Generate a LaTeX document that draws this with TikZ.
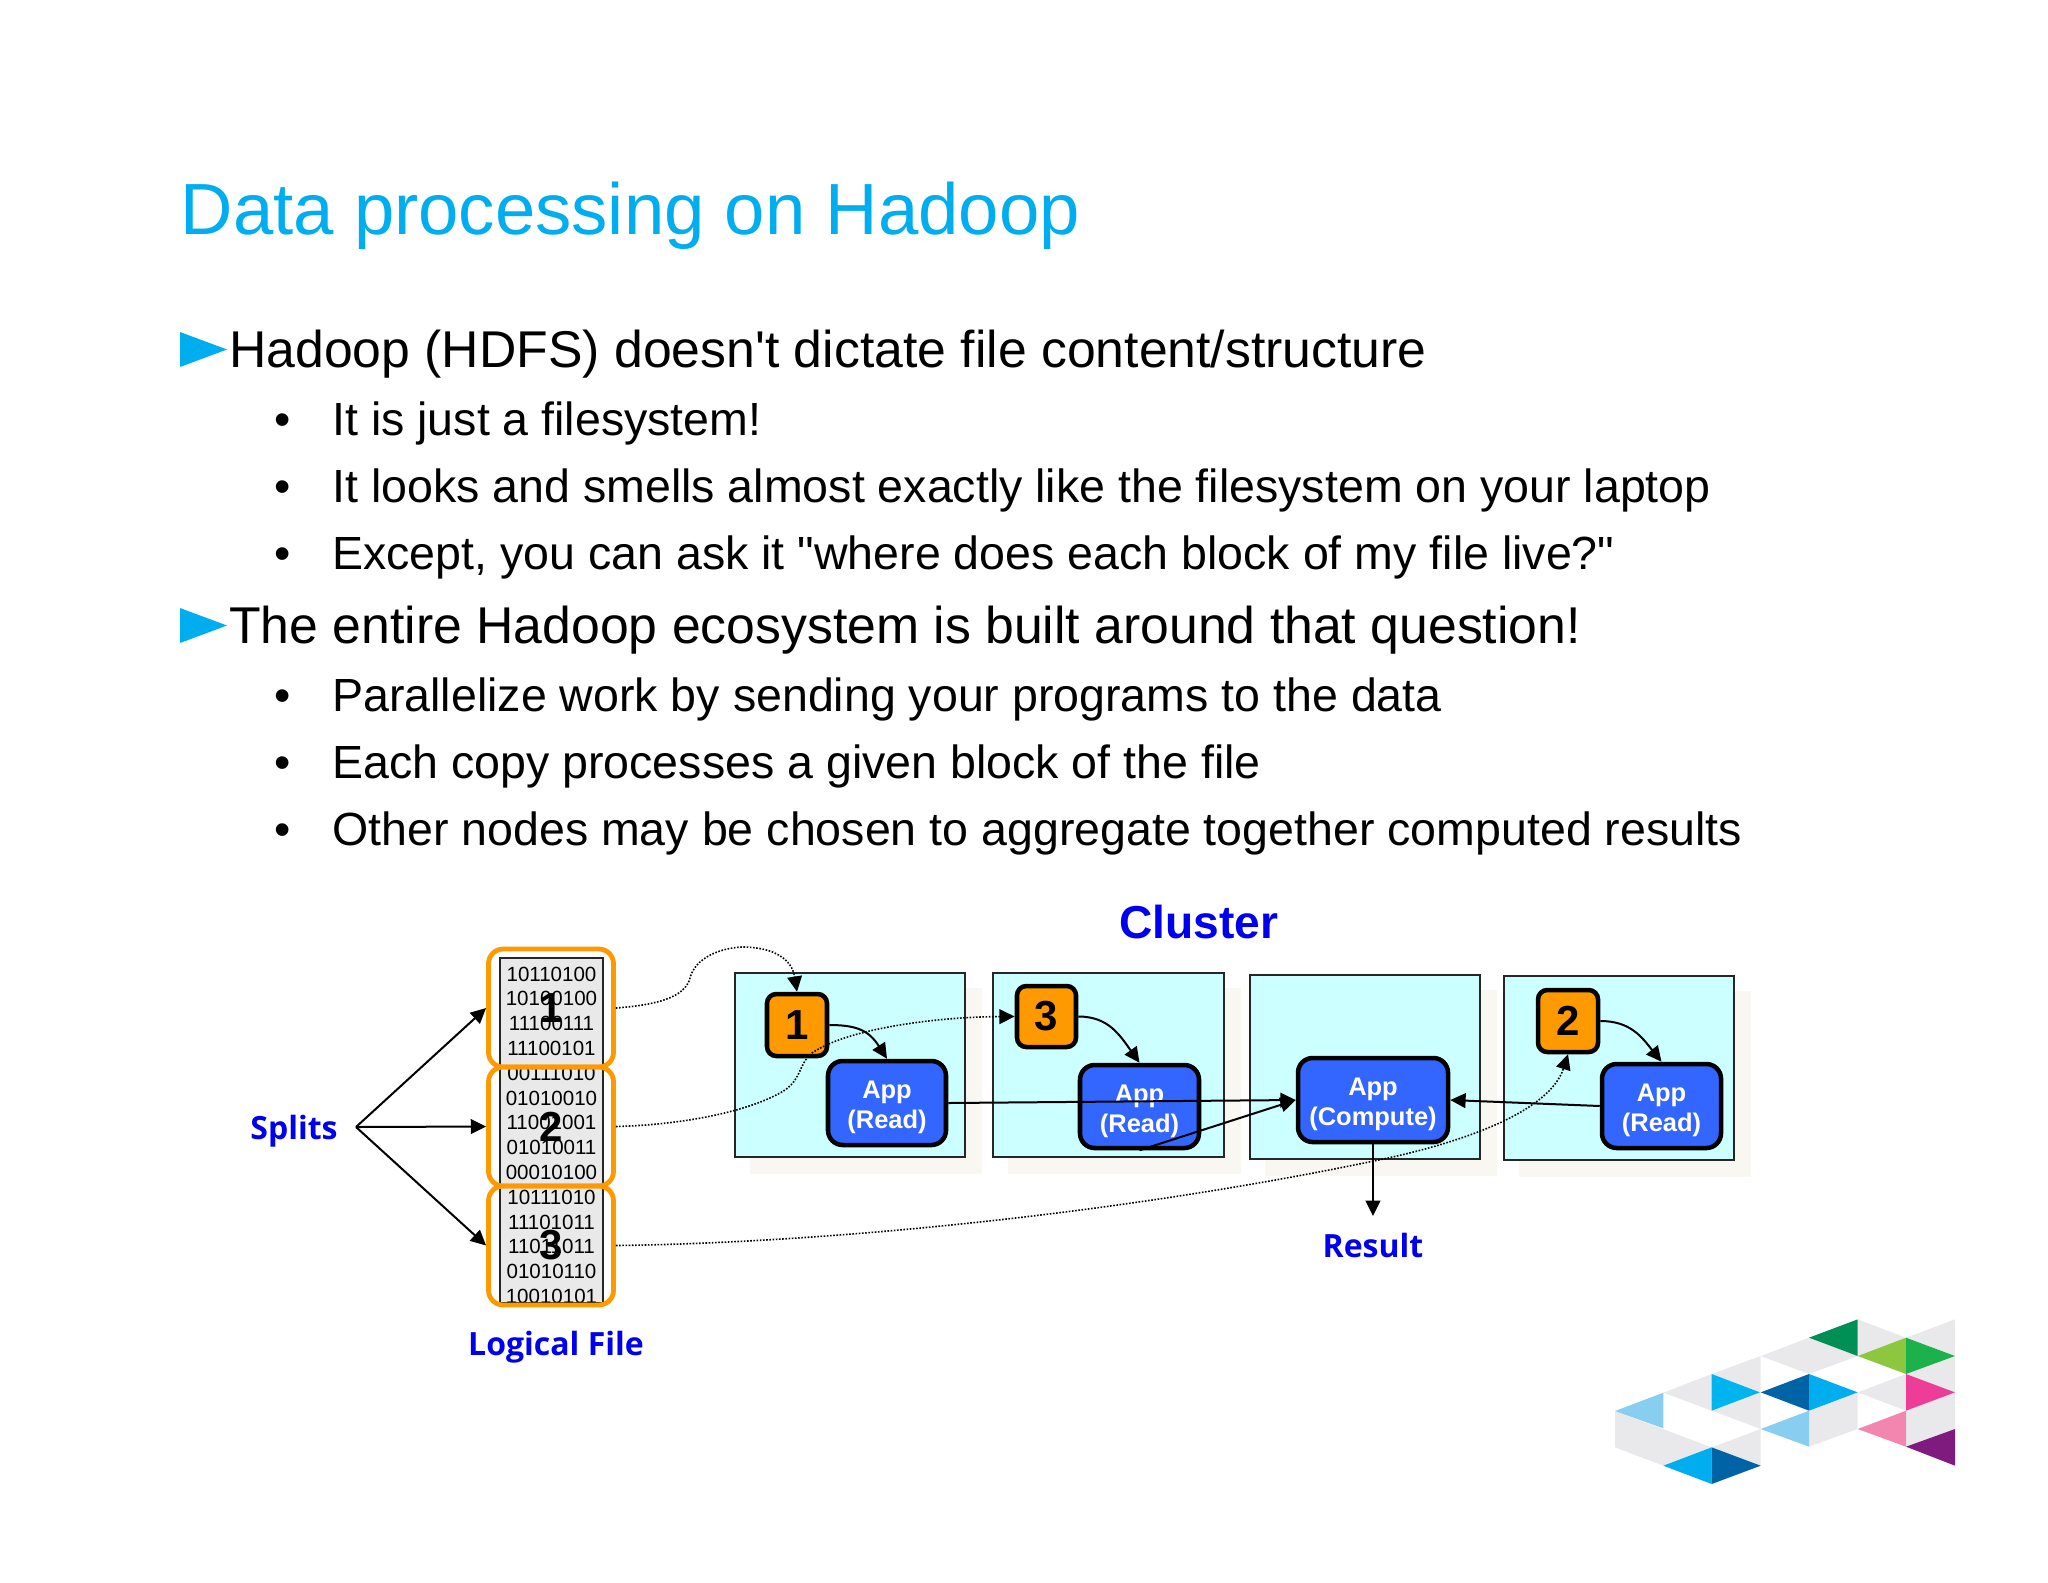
\documentclass[tikz,border=0pt]{standalone}
\usepackage{fontspec}
\setmainfont{Liberation Sans}
\newfontfamily\labelfont{Open Sans}
\usetikzlibrary{arrows.meta,backgrounds}
\definecolor{titleblue}{HTML}{00AEEF}
\definecolor{labelblue}{HTML}{0000EE}
\definecolor{orangebox}{HTML}{FF9900}
\definecolor{appblue}{HTML}{3366FF}
\definecolor{cellcyan}{HTML}{CCFFFF}
\definecolor{shadowc}{HTML}{F8F7F2}
\definecolor{filegray}{HTML}{E9E9E9}
\definecolor{logogray}{HTML}{E9E9EB}
\newcommand{\bxn}[7]{%
  \pgfmathsetmacro\cxv{(#3+#5)/2}\pgfmathsetmacro\cyv{(#4+#6)/2}%
  \node[#2,minimum width={(#5-#3)*0.75pt},minimum height={(#6-#4)*0.75pt}] (#1) at (\cxv,\cyv) {#7};}
\newcommand{\applines}[2]{\rule{0pt}{20pt}#1\\#2}
\tikzset{
  titletext/.style={anchor=base west,inner sep=0,font=\fontsize{54.4}{60}\selectfont,text=titleblue},
  leadtext/.style={anchor=base west,inner sep=0,font=\fontsize{38.8}{46}\selectfont},
  subtext/.style={anchor=base west,inner sep=0,font=\fontsize{34.9}{40}\selectfont},
  arrowbullet/.style={fill=titleblue,draw=none},
  filebox/.style={draw=black!85,line width=1.9pt,fill=filegray,inner sep=0},
  bits/.style={anchor=base,inner sep=0,font=\fontsize{15.4}{18}\selectfont},
  splitbox/.style={draw=orangebox,line width=3.6pt,rounded corners=11pt,inner sep=0,font=\bfseries\fontsize{31.5}{36}\selectfont},
  cellbox/.style={draw=black!85,line width=1.5pt,fill=cellcyan,inner sep=0},
  blockbox/.style={draw=black,line width=3.4pt,fill=orangebox,rounded corners=7pt,inner sep=0,font=\bfseries\fontsize{31.5}{36}\selectfont},
  appbox/.style={draw=black,line width=3.4pt,fill=appblue,rounded corners=11pt,inner sep=0,align=center,text=white,font=\bfseries\fontsize{19.1}{22.8}\selectfont},
  bluelabel/.style={anchor=base,inner sep=0,text=labelblue,font=\labelfont\bfseries\fontsize{24}{28}\selectfont},
  clusterlabel/.style={anchor=base,inner sep=0,text=labelblue,font=\bfseries\fontsize{34.6}{40}\selectfont},
  conn/.style={line width=1.5pt,-{Triangle[length=11.5pt,width=11pt]}},
  dots/.style={line width=1.2pt,dash pattern=on 1.2pt off 1.2pt,-{Triangle[length=11.5pt,width=11pt]}},
}
\begin{document}
\begin{tikzpicture}[x=0.75pt,y=-0.75pt]
\useasboundingbox (0,0) rectangle (2048,1582);
% text
\node[titletext] (title) at (180.5,234) {Data processing on Hadoop};
\fill[arrowbullet] (180,332) -- (227,349.5) -- (180,367) -- cycle;
\node[leadtext] (l1) at (229,367) {Hadoop (HDFS) doesn\textquotesingle t dictate file content/structure};
\node[subtext] (b1) at (274,435) {•};
\node[subtext] (t1) at (332,435) {It is just a filesystem!};
\node[subtext] (b2) at (274,502) {•};
\node[subtext] (t2) at (332,502) {It looks and smells almost exactly like the filesystem on your laptop};
\node[subtext] (b3) at (274,569) {•};
\node[subtext] (t3) at (332,569) {Except, you can ask it \textquotedbl where does each block of my file live?\textquotedbl};
\fill[arrowbullet] (180,608) -- (227,625.5) -- (180,643) -- cycle;
\node[leadtext] (l2) at (229,643) {The entire Hadoop ecosystem is built around that question!};
\node[subtext] (b4) at (274,711) {•};
\node[subtext] (t4) at (332,711) {Parallelize work by sending your programs to the data};
\node[subtext] (b5) at (274,778) {•};
\node[subtext] (t5) at (332,778) {Each copy processes a given block of the file};
\node[subtext] (b6) at (274,845) {•};
\node[subtext] (t6) at (332,845) {Other nodes may be chosen to aggregate together computed results};
% logical file
\bxn{file}{filebox}{500}{958}{603}{1303}{}
\foreach \t [count=\i] in {10110100,10100100,11100111,11100101,00111010,01010010,11001001,01010011,00010100,10111010,11101011,11011011,01010110,10010101}
  \node[bits] (bit\i) at (551.5,{956.2+24.8*\i}) {\t};
\bxn{split1}{splitbox}{488.5}{949}{613.5}{1067}{1}
\bxn{split2}{splitbox}{488.5}{1067}{613.5}{1186}{2}
\bxn{split3}{splitbox}{488.5}{1186}{613.5}{1305}{3}
\node[bluelabel] (splits) at (294,1139) {Splits};
\node[bluelabel] (logical) at (556,1355) {Logical File};
\coordinate (apex) at (356,1127);
\draw[conn] (apex) -- (split1.west);
\draw[conn] (apex) -- (split2.west);
\draw[conn] (apex) -- (split3.west);
% cluster
\node[clusterlabel] (cluster) at (1199,938) {Cluster};
\bxn{cell1}{cellbox}{735}{973}{965}{1157}{}
\bxn{cell2}{cellbox}{993}{973}{1223.5}{1157}{}
\bxn{cell3}{cellbox}{1250}{975}{1480}{1159}{}
\bxn{cell4}{cellbox}{1504}{976}{1734}{1160}{}
\begin{pgfonlayer}{background}
\foreach \c in {cell1,cell2,cell3,cell4}
  \fill[shadowc] ([shift={(16,16)}]\c.south west) rectangle ([shift={(16,16)}]\c.north east);
\end{pgfonlayer}
\bxn{block1}{blockbox}{767}{994}{827}{1056}{1}
\bxn{block3}{blockbox}{1017}{986}{1076}{1047}{3}
\bxn{block2}{blockbox}{1538}{990}{1598}{1052}{2}
\bxn{app1}{appbox}{828}{1061}{946}{1145}{\applines{App}{(Read)}}
\bxn{app2}{appbox}{1080}{1065}{1199}{1148}{\applines{App}{(Read)}}
\bxn{appc}{appbox}{1298}{1058}{1448}{1142}{\applines{App}{(Compute)}}
\bxn{app3}{appbox}{1602}{1064}{1721}{1148}{\applines{App}{(Read)}}
\node[bluelabel] (result) at (1373,1257) {Result};
\coordinate (resultend) at (1373,1216);
\draw[conn] (block1.east) .. controls +(28,0) and +(-18,-28) .. (app1.north);
\draw[conn] (block3.east) .. controls +(30,0) and +(-20,-28) .. (app2.north);
\draw[conn] (block2.east) .. controls +(30,0) and +(-20,-25) .. (app3.north);
\draw[conn] (app1.east) -- (appc.west);
\draw[conn] (app2.south) -- (appc.west);
\draw[conn] (app3.west) -- (appc.east);
\draw[conn] (appc.south) -- (resultend);
% dotted
\draw[dots] (split1.east) .. controls (655,1005) and (685,998) .. (690,978) .. controls (695,958) and (720,948) .. (742,947) .. controls (775,947) and (792,960) .. (block1.north);
\draw[dots] (split2.east) .. controls (680,1125) and (750,1112) .. (785,1090) .. controls (802,1078) and (798,1065) .. (812,1053) .. controls (845,1030) and (930,1017) .. (block3.west);
\draw[dots] (split3.east) .. controls (820,1243) and (1120,1215) .. (1388,1158) .. controls (1470,1140) and (1550,1110) .. (block2.south);
% logo
\begin{scope}[shift={(1590,1300)},x=0.25pt,y=-0.25pt]
\fill[logogray] (75,333) -- (365,442) -- (220,497) -- (75,442) -- cycle;
\fill[logogray] (365,442) -- (512,387) -- (512,497) -- cycle;
\fill[logogray] (220,278) -- (365,222) -- (365,332) -- cycle;
\fill[logogray] (365,222) -- (512,168) -- (512,277) -- cycle;
\fill[logogray] (365,332) -- (512,277) -- (512,387) -- cycle;
\fill[logogray] (512,168) -- (657,113) -- (803,168) -- (657,222) -- cycle;
\fill[logogray] (657,332) -- (803,277) -- (803,387) -- (657,440) -- cycle;
\fill[logogray] (803,277) -- (948,222) -- (948,332) -- cycle;
\fill[logogray] (948,332) -- (1095,277) -- (1095,387) -- (948,440) -- cycle;
\fill[logogray] (948,222) -- (1095,168) -- (1095,277) -- cycle;
\fill[logogray] (803,58) -- (948,113) -- (803,168) -- cycle;
\fill[logogray] (948,113) -- (1095,58) -- (1095,168) -- cycle;
\fill[color={rgb,255:red,135;green,206;blue,240}] (75,333) -- (220,278) -- (220,385) -- cycle;
\fill[color={rgb,255:red,0;green,181;blue,239}] (365,222) -- (510,277) -- (365,332) -- cycle;
\fill[color={rgb,255:red,0;green,99;blue,165}] (512,277) -- (657,222) -- (657,332) -- cycle;
\fill[color={rgb,255:red,0;green,174;blue,239}] (657,222) -- (803,277) -- (657,332) -- cycle;
\fill[color={rgb,255:red,0;green,143;blue,84}] (657,113) -- (803,58) -- (803,168) -- cycle;
\fill[color={rgb,255:red,141;green,198;blue,63}] (803,168) -- (948,113) -- (948,222) -- cycle;
\fill[color={rgb,255:red,29;green,177;blue,75}] (948,113) -- (1095,168) -- (948,222) -- cycle;
\fill[color={rgb,255:red,238;green,61;blue,150}] (948,222) -- (1095,277) -- (948,332) -- cycle;
\fill[color={rgb,255:red,242;green,134;blue,174}] (803,387) -- (948,332) -- (948,440) -- cycle;
\fill[color={rgb,255:red,127;green,26;blue,127}] (948,440) -- (1095,387) -- (1095,497) -- cycle;
\fill[color={rgb,255:red,135;green,206;blue,240}] (512,387) -- (657,332) -- (657,440) -- cycle;
\fill[color={rgb,255:red,0;green,174;blue,239}] (220,497) -- (365,442) -- (365,552) -- cycle;
\fill[color={rgb,255:red,0;green,99;blue,165}] (365,442) -- (512,497) -- (365,552) -- cycle;
\end{scope}
\end{tikzpicture}
\end{document}
